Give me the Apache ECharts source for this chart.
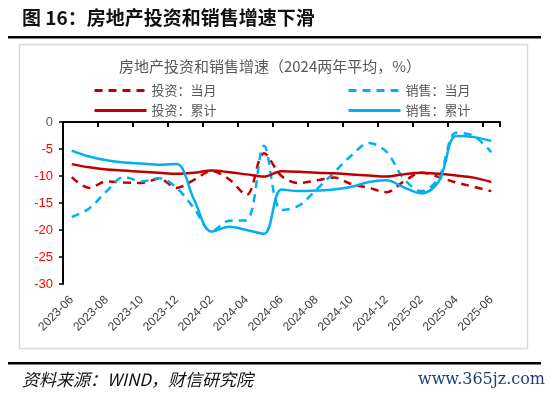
<!DOCTYPE html>
<html>
<head>
<meta charset="utf-8">
<script src="https://cdn.jsdelivr.net/npm/echarts@6/dist/echarts.min.js"></script>
<style>
html,body{margin:0;padding:0;background:#fff;}
#chart{width:550px;height:393px;}
</style>
</head>
<body>
<div id="chart"></div>
<script>
const categories = ['2023-06','2023-07','2023-08','2023-09','2023-10','2023-11','2023-12',
  '2024-01','2024-02','2024-03','2024-04','2024-05','2024-06','2024-07','2024-08','2024-09',
  '2024-10','2024-11','2024-12','2025-01','2025-02','2025-03','2025-04','2025-05','2025-06'];
const invMonthly = [-10.2,-12.2,-11.0,-11.2,-11.3,-10.5,-12.2,-10.7,-9.1,-10.6,-13.5,-5.8,-10.0,-11.3,-10.8,-10.3,-11.5,-12.2,-13.0,-11.0,-9.4,-10.2,-11.2,-12.0,-12.8];
const salesMonthly = [-17.6,-16.0,-12.8,-10.2,-11.0,-10.4,-12.2,-16.0,-20.2,-18.3,-18.2,-4.4,-16.3,-15.5,-12.5,-9.4,-6.2,-3.9,-5.5,-10.5,-12.8,-10.3,-2.0,-2.6,-5.6];
const invCum = [-7.8,-8.4,-8.8,-9.0,-9.2,-9.4,-9.6,-9.4,-9.0,-9.3,-9.7,-10.1,-9.1,-9.2,-9.4,-9.5,-9.7,-9.9,-10.1,-9.7,-9.4,-9.6,-9.9,-10.3,-11.1];
const salesCum = [-5.3,-6.4,-7.1,-7.5,-7.7,-7.9,-7.8,-14.4,-20.3,-19.4,-20.0,-20.7,-12.5,-12.8,-12.7,-12.5,-12.0,-11.1,-10.8,-12.1,-13.2,-11.0,-2.6,-2.8,-3.5];
const seriesNames = ['投资：当月','销售：当月','投资：累计','销售：累计'];

const RED = '#C00000', BLUE = '#00B0F0';
const chart = echarts.init(document.getElementById('chart'), null, {renderer:'canvas'});
const lineFont = 'Liberation Sans, Arial, sans-serif';
const cjk = '"Noto Sans CJK SC", sans-serif';

function mk(name, data, color, dashed) {
  return {
    name, type:'line', data, smooth:0.35, symbol:'none', xAxisIndex:0, yAxisIndex:0,
    lineStyle:{color, width:2.5, type: dashed ? [8,6] : 'solid', cap:'butt'},
    itemStyle:{color}
  };
}
const legendCommon = {orient:'vertical', top:79, itemWidth:52, itemHeight:14, itemGap:7,
  itemStyle:{opacity:0, borderWidth:0},
  lineStyle:{width:3},
  textStyle:{color:'#595959', fontSize:13, fontFamily:cjk}};

const option = {
  animation:false,
  backgroundColor:'#fff',
  grid:{left:63, right:50, top:122, bottom:109},
  legend:[
    Object.assign({data:[seriesNames[0], seriesNames[2]], left:88}, legendCommon),
    Object.assign({data:[seriesNames[1], seriesNames[3]], left:342}, legendCommon)
  ],
  xAxis:[
    {type:'category', data:categories, position:'bottom', boundaryGap:true,
     axisLine:{show:false}, axisTick:{show:false},
     axisLabel:{interval:1, rotate:45, color:'#404040', fontSize:12, fontFamily:lineFont, margin:14}},
    {type:'category', data:categories, position:'top', boundaryGap:true,
     axisLine:{show:true, lineStyle:{color:'#000', width:2}},
     axisTick:{show:true, inside:true, length:5, interval:1, lineStyle:{color:'#000', width:2}},
     axisLabel:{show:false}}
  ],
  yAxis:{type:'value', min:-30, max:0, interval:5,
    axisLine:{show:true, lineStyle:{color:'#000', width:2}},
    axisTick:{show:true, length:4, lineStyle:{color:'#000', width:1.5}},
    splitLine:{show:false},
    axisLabel:{fontSize:13, fontFamily:lineFont, margin:10,
      formatter:function(v){ return v < 0 ? '{r|' + v + '}' : '{k|' + v + '}'; },
      rich:{r:{color:'#FF0000', fontSize:13, fontFamily:lineFont}, k:{color:'#595959', fontSize:13, fontFamily:lineFont}}}
  },
  series:[
    mk(seriesNames[0], invMonthly, RED, true),
    mk(seriesNames[1], salesMonthly, BLUE, true),
    mk(seriesNames[2], invCum, RED, false),
    mk(seriesNames[3], salesCum, BLUE, false)
  ],
  graphic:[
    {type:'text', left:22, top:8, style:{text:'图 16：房地产投资和销售增速下滑', fill:'#111', font:'bold 19px "Noto Sans CJK SC", sans-serif'}},
    {type:'rect', shape:{x:8, y:36, width:533, height:2.5}, style:{fill:'#000'}},
    {type:'rect', shape:{x:19.5, y:44.5, width:508, height:304}, style:{fill:'none', stroke:'#d9d9d9', lineWidth:1.5}, z:-1},
    {type:'text', x:270, y:66, style:{text:'房地产投资和销售增速（2024两年平均，%）', fill:'#595959', font:'15px "Noto Sans CJK SC", sans-serif', align:'center', verticalAlign:'middle'}},
    {type:'rect', shape:{x:8, y:362, width:533, height:2.5}, style:{fill:'#000'}},
    {type:'text', x:22, y:380, style:{text:'资料来源：WIND，财信研究院', fill:'#111', font:'italic 17px "Noto Sans CJK SC", serif', verticalAlign:'middle'}},
    {type:'text', x:545, y:380, style:{text:'www.365jz.com', fill:'#1F3E78', font:'16px "DejaVu Serif", "Liberation Serif", serif', align:'right', verticalAlign:'middle'}}
  ]
};
chart.setOption(option);
</script>
</body>
</html>
